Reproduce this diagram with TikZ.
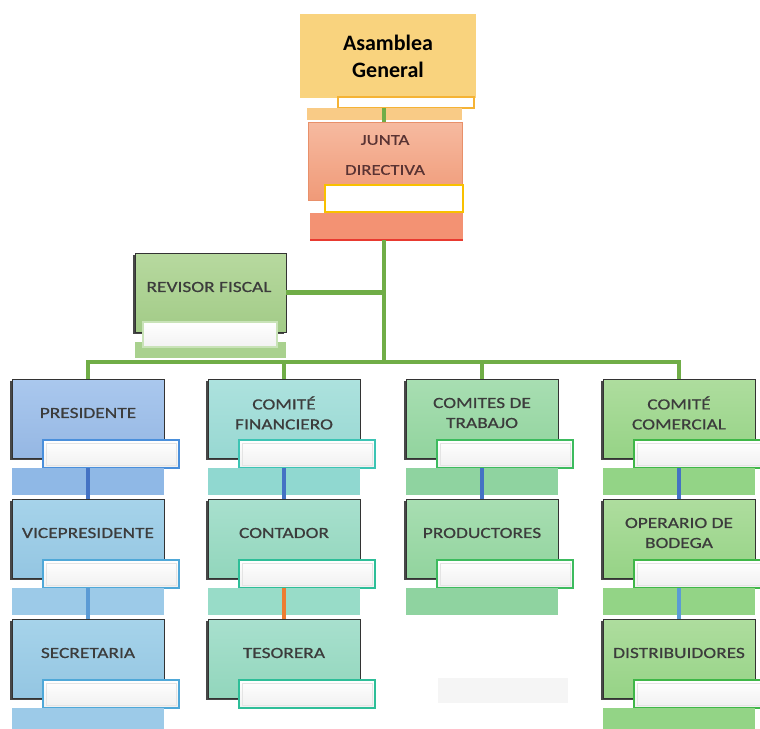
\documentclass[tikz,border=0pt]{standalone}
\usepackage{fontspec}
\setmainfont{Carlito}
\newfontfamily\boxfont[FakeStretch=1.25,FakeBold=0.6]{Carlito}
\usetikzlibrary{shadows,calc}

% palette
\definecolor{asamfill}{HTML}{F9D37E}
\definecolor{asamtag}{HTML}{F5B335}
\definecolor{asamstrip}{HTML}{F9CB86}
\definecolor{juntatop}{HTML}{F6BAA0}
\definecolor{juntabot}{HTML}{F09A78}
\definecolor{juntaedge}{HTML}{E8906A}
\definecolor{juntatag}{HTML}{F8C000}
\definecolor{juntastrip}{HTML}{F39273}
\definecolor{juntared}{HTML}{E83A30}
\definecolor{orgline}{HTML}{70AD47}
\definecolor{boxedge}{HTML}{333333}
\definecolor{txtgray}{HTML}{3C3C3C}
\definecolor{tagin}{HTML}{E4E4E4}
% column colours
\definecolor{presT}{HTML}{AAC8EE}\definecolor{presB}{HTML}{95B7E3}
\definecolor{presE}{HTML}{4A8FDB}\definecolor{presS}{HTML}{8FB8E6}
\definecolor{viceT}{HTML}{A6D3EA}\definecolor{viceB}{HTML}{94C6E2}
\definecolor{viceE}{HTML}{4FA8D8}\definecolor{viceS}{HTML}{9CCAE8}
\definecolor{finT}{HTML}{ADE2DE}\definecolor{finB}{HTML}{98D8D2}
\definecolor{finE}{HTML}{3CC4B4}\definecolor{finS}{HTML}{90D8D0}
\definecolor{conT}{HTML}{A8E0CE}\definecolor{conB}{HTML}{92D6BC}
\definecolor{conE}{HTML}{2EBE98}\definecolor{conS}{HTML}{98DCC8}
\definecolor{traT}{HTML}{A8DEB2}\definecolor{traB}{HTML}{92D49E}
\definecolor{traE}{HTML}{3DBB5E}\definecolor{traS}{HTML}{8FD3A0}
\definecolor{comT}{HTML}{AEDD9E}\definecolor{comB}{HTML}{96D386}
\definecolor{comE}{HTML}{3FB748}\definecolor{comS}{HTML}{93D486}
\definecolor{revT}{HTML}{B7D99F}\definecolor{revB}{HTML}{A2CB87}
\definecolor{revE}{HTML}{C9E3B8}\definecolor{revS}{HTML}{A9D18E}
\definecolor{linkA}{HTML}{4472C4}
\definecolor{linkB}{HTML}{5B9BD5}
\definecolor{linkC}{HTML}{ED7D31}

\tikzset{
  plate/.style={rectangle, inner sep=0pt, outer sep=0pt, anchor=north west},
  unitbox/.style={plate, minimum width=152pt, minimum height=79pt,
    draw=boxedge, line width=1pt,
    drop shadow={shadow xshift=-1.6pt, shadow yshift=-1.6pt, opacity=0.9, fill=boxedge}},
  tagbox/.style={plate, minimum width=136pt, minimum height=28pt,
    top color=white, bottom color=white!94!black, line width=1.6pt},
  stripbox/.style={plate, minimum width=152pt, minimum height=27pt},
  unittext/.style={font=\boxfont\fontsize{15.5}{20}\selectfont, text=txtgray,
    align=center, inner sep=0pt},
  orgbus/.style={draw=orgline, line width=4.5pt},
  sublink/.style={line width=4pt},
}

% \orgunit{name}{x}{y}{top}{bottom}{tag edge}{text}
\newcommand\orgunit[7]{%
  \node[unitbox, top color=#4, bottom color=#5] (#1) at (#2,#3) {};
  \node[tagbox, draw=#6] (#1-tag) at ({#2+31},{#3+61}) {};
  \draw[tagin, line width=0.6pt] ([xshift=3pt,yshift=-3pt]#1-tag.north west)
    rectangle ([xshift=-3pt,yshift=3pt]#1-tag.south east);
  \node[unittext] (#1-text) at ({#2+76},{#3+34}) {#7};
}
% \orgstrip{name}{colour}{height}
\newcommand\orgstrip[3]{%
  \node[stripbox, fill=#2, minimum height=#3] (#1-strip) at (#1.south west |- #1-tag.south) {};
}

\begin{document}
\begin{tikzpicture}[x=1pt, y=-1pt]
\useasboundingbox (0,0) rectangle (760,728);
\clip (0,0) rectangle (760,728);

% ---- Asamblea General ----
\node[plate, minimum width=176pt, minimum height=84pt, fill=asamfill] (asam) at (300,14) {};
\node[font=\fontsize{22}{27}\selectfont\bfseries, align=center, inner sep=0pt] (asam-text)
  at (388,56) {Asamblea\\General};
\node[plate, minimum width=136pt, minimum height=11pt, fill=white, draw=asamtag, line width=1.4pt]
  (asam-tag) at (338,97) {};
\node[plate, minimum width=155pt, minimum height=12pt, fill=asamstrip] (asam-strip) at (307,108) {};

% ---- Junta Directiva ----
\node[plate, minimum width=154pt, minimum height=78pt, top color=juntatop, bottom color=juntabot,
  draw=juntaedge, line width=0.8pt] (junta) at (308,122) {};
\node[plate, minimum width=138pt, minimum height=27pt, fill=white, draw=juntatag, line width=2pt]
  (junta-tag) at (325,185) {};
\node[plate, minimum width=153pt, minimum height=27pt, fill=juntastrip] (junta-strip) at (310,213) {};
\draw[juntared, line width=1.2pt] (junta-strip.south west) -- (junta-strip.south east);
\node[unittext, text=txtgray!85!red, font=\boxfont\fontsize{15}{30}\selectfont] (junta-text)
  at (385,155) {JUNTA\\DIRECTIVA};

% ---- Revisor Fiscal ----
\node[plate, minimum width=151pt, minimum height=16pt, fill=revS] (rev-strip) at (135,342) {};
\node[unitbox, minimum width=151pt, top color=revT, bottom color=revB] (rev) at (135,253) {};
\node[plate, minimum width=134pt, minimum height=25pt, top color=white, bottom color=white!95!black,
  draw=revE, line width=1.4pt] (rev-tag) at (143,322) {};
\node[unittext] (rev-text) at (209,287) {REVISOR FISCAL};

% ---- first level ----
\orgunit{pres}{12}{379}{presT}{presB}{presE}{PRESIDENTE}
\orgunit{fin}{208}{379}{finT}{finB}{finE}{COMITÉ\\FINANCIERO}
\orgunit{tra}{406}{379}{traT}{traB}{traE}{COMITES DE\\TRABAJO}
\orgunit{com}{603}{379}{comT}{comB}{comE}{COMITÉ\\COMERCIAL}
\orgstrip{pres}{presS}{27pt}
\orgstrip{fin}{finS}{27pt}
\orgstrip{tra}{traS}{27pt}
\orgstrip{com}{comS}{27pt}

% ---- second level ----
\orgunit{vice}{12}{499}{viceT}{viceB}{viceE}{VICEPRESIDENTE}
\orgunit{cont}{208}{499}{conT}{conB}{conE}{CONTADOR}
\orgunit{prod}{406}{499}{traT}{traB}{traE}{PRODUCTORES}
\orgunit{oper}{603}{499}{comT}{comB}{comE}{OPERARIO DE\\BODEGA}
\orgstrip{vice}{viceS}{27pt}
\orgstrip{cont}{conS}{27pt}
\orgstrip{prod}{traS}{27pt}
\orgstrip{oper}{comS}{27pt}

% ---- third level ----
\orgunit{secr}{12}{619}{viceT}{viceB}{viceE}{SECRETARIA}
\orgunit{teso}{208}{619}{conT}{conB}{conE}{TESORERA}
\orgunit{dist}{603}{619}{comT}{comB}{comE}{DISTRIBUIDORES}
\orgstrip{secr}{viceS}{27pt}
\orgstrip{dist}{comS}{27pt}
\node[plate, minimum width=130pt, minimum height=25pt, fill=black!4] (spare) at (438,678) {};

% ---- main green connectors ----
\coordinate (bus) at (384,362);
\draw[orgbus] (asam-strip.north -| bus) -- (junta.north -| bus);
\draw[orgbus] (junta-strip.south -| bus) -- (bus);
\draw[orgbus] (rev.east) -- (rev.east -| bus);
\draw[orgbus] (pres.north) |- (bus) -| (com.north);
\draw[orgbus] (fin.north) -- (fin.north |- bus);
\draw[orgbus] (tra.north) -- (tra.north |- bus);

% ---- links inside each column ----
\draw[sublink, draw=linkA] (pres-tag.south -| pres.north) -- (vice.north);
\draw[sublink, draw=linkB] (vice-tag.south -| vice.north) -- (secr.north);
\draw[sublink, draw=linkA] (fin-tag.south -| fin.north) -- (cont.north);
\draw[sublink, draw=linkC] (cont-tag.south -| cont.north) -- (teso.north);
\draw[sublink, draw=linkA] (tra-tag.south -| tra.north) -- (prod.north);
\draw[sublink, draw=linkA] (com-tag.south -| com.north) -- (oper.north);
\draw[sublink, draw=linkB] (oper-tag.south -| oper.north) -- (dist.north);
\end{tikzpicture}
\end{document}
